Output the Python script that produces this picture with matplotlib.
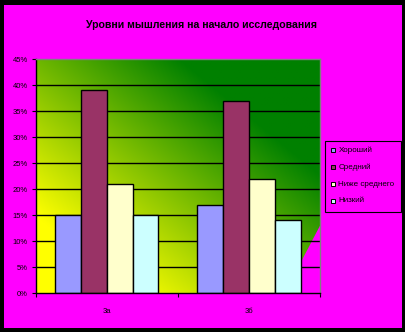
import numpy as np
import matplotlib
matplotlib.use("Agg")
import matplotlib.pyplot as plt
from matplotlib.patches import Rectangle, Polygon

# ---- data ----
categories = ["3а", "3б"]
series_names = ["Хороший", "Средний", "Ниже среднего", "Низкий"]
values = {
    "Хороший": [15, 17],
    "Средний": [39, 37],
    "Ниже среднего": [21, 22],
    "Низкий": [15, 14],
}
y_ticks = [0, 5, 10, 15, 20, 25, 30, 35, 40, 45]
title = "Уровни мышления на начало исследования"

# ---- style ----
colors = ["#9999FF", "#993366", "#FFFFCC", "#CCFFFF"]
MAGENTA = "#FF00FF"
W, H = 406, 332
plt.rcParams["font.family"] = ["Liberation Sans", "DejaVu Sans"]


def fx(px):
    return px / W


def fy(py):
    return 1 - py / H


fig = plt.figure(figsize=(W / 100, H / 100), dpi=100, facecolor="black")
fig.add_artist(Rectangle((fx(4), fy(328)), fx(398), 323 / H,
                         transform=fig.transFigure, facecolor=MAGENTA,
                         edgecolor="none", zorder=-10))

ax = fig.add_axes([fx(35.5), fy(293), fx(284.5), 234 / H])
ax.set_facecolor("none")

# diagonal yellow -> green gradient background of the plot area
n = 300
u = np.linspace(0, 1, n)[None, :]
v = np.linspace(0, 1, n)[:, None]
t = np.clip(0.85 * u + 0.85 * v - 0.28, 0, 1)
c0 = np.array([255, 255, 0]) / 255
c1 = np.array([0, 128, 0]) / 255
img = c0[None, None, :] * (1 - t[..., None]) + c1[None, None, :] * t[..., None]
im = ax.imshow(img, origin="lower", extent=[0, 1, 0, 1], transform=ax.transAxes,
               aspect="auto", zorder=0, interpolation="bilinear")
clip = Polygon([(0, 0), (0.876, 0), (1, 0.288), (1, 1), (0, 1)], closed=True,
               transform=ax.transAxes, facecolor="none", edgecolor="none")
ax.add_patch(clip)
im.set_clip_path(clip)

ax.set_xlim(-0.5, 1.5)
ax.set_ylim(0, 45)

# horizontal gridlines
for yv in y_ticks[1:-1]:
    ax.axhline(yv, color="black", lw=1.0, zorder=1)

# bars
x = np.arange(len(categories))
bw = 0.182
for i, name in enumerate(series_names):
    ax.bar(x + (i - 1.5) * bw, values[name], width=bw, color=colors[i],
           edgecolor="black", linewidth=1.0, zorder=2)

# axes styling
ax.spines["left"].set_color("black")
ax.spines["bottom"].set_color("black")
ax.spines["top"].set_color("#808080")
ax.spines["right"].set_color("#808080")
for s in ax.spines.values():
    s.set_linewidth(1.0)
    s.set_zorder(3)

ax.set_yticks(y_ticks)
ax.set_yticklabels([f"{v}%" for v in y_ticks])
ax.tick_params(axis="y", length=3, width=0.8, pad=2.5, labelsize=5.5,
               direction="out")

ax.set_xticks([-0.5, 0.5, 1.5])
ax.set_xticklabels([])
ax.set_xticks(x, minor=True)
ax.set_xticklabels(categories, minor=True)
ax.tick_params(axis="x", which="major", length=3, width=0.8, direction="out")
ax.tick_params(axis="x", which="minor", length=0, pad=10.5, labelsize=5.5)

fig.text(fx(202), fy(25), title, ha="center", va="center", fontsize=7.6,
         fontweight="bold", color="black")

# legend
fig.add_artist(Rectangle((fx(325), fy(212)), fx(76), 71 / H,
                         transform=fig.transFigure, facecolor="none",
                         edgecolor="black", linewidth=0.8))
ys = [150, 167, 184, 201]
for i, name in enumerate(series_names):
    fig.add_artist(Rectangle((fx(331), fy(ys[i] + 2)), fx(4), 4 / H,
                             transform=fig.transFigure, facecolor=colors[i],
                             edgecolor="black", linewidth=0.7))
    fig.text(fx(338.5), fy(ys[i]), name, ha="left", va="center",
             fontsize=5.8, color="black")

fig.savefig("out.png", dpi=100, facecolor=fig.get_facecolor())
